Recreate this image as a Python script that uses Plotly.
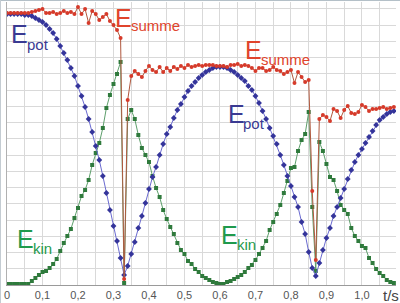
import plotly.graph_objects as go

# time axis (s), sampled every 10 ms
t = [0.00, 0.01, 0.02, 0.03, 0.04, 0.05, 0.06, 0.07, 0.08, 0.09,
     0.10, 0.11, 0.12, 0.13, 0.14, 0.15, 0.16, 0.17, 0.18, 0.19,
     0.20, 0.21, 0.22, 0.23, 0.24, 0.25, 0.26, 0.27, 0.28, 0.29,
     0.30, 0.31, 0.32, 0.33, 0.34, 0.35, 0.36, 0.37, 0.38, 0.39,
     0.40, 0.41, 0.42, 0.43, 0.44, 0.45, 0.46, 0.47, 0.48, 0.49,
     0.50, 0.51, 0.52, 0.53, 0.54, 0.55, 0.56, 0.57, 0.58, 0.59,
     0.60, 0.61, 0.62, 0.63, 0.64, 0.65, 0.66, 0.67, 0.68, 0.69,
     0.70, 0.71, 0.72, 0.73, 0.74, 0.75, 0.76, 0.77, 0.78, 0.79,
     0.80, 0.81, 0.82, 0.83, 0.84, 0.85, 0.86, 0.87, 0.88, 0.89,
     0.90, 0.91, 0.92, 0.93, 0.94, 0.95, 0.96, 0.97, 0.98, 0.99,
     1.00, 1.01, 1.02, 1.03, 1.04, 1.05, 1.06, 1.07, 1.08, 1.09]

# energies in arbitrary units
e_pot = [271, 271, 271, 271, 271, 270, 270, 269, 267, 265,
         263, 260, 256, 252, 246, 239, 232, 225, 217, 209,
         199, 189, 178, 166, 153, 139, 125, 109, 92, 75,
         59, 44, 27, 10, 19, 31, 43, 57, 69, 82,
         96, 108, 118, 130, 141, 151, 158, 167, 175, 181,
         188, 194, 199, 203, 207, 210, 213, 215, 217, 218,
         218, 218, 217, 215, 213, 210, 207, 204, 199, 195,
         189, 182, 174, 166, 157, 149, 141, 130, 120, 109,
         99, 88, 78, 63, 51, 33, 17, 9, 22, 35,
         47, 57, 69, 78, 87, 96, 106, 115, 123, 130,
         136, 142, 148, 154, 160, 165, 168, 171, 173, 174]

e_kin = [1, 1, 1, 1, 1, 1, 1, 4, 7, 10,
         13, 14, 17, 21, 26, 34, 42, 49, 56, 67,
         77, 89, 95, 105, 120, 132, 142, 157, 177, 190,
         201, 211, 223, 2, 166, 175, 166, 150, 137, 130,
         123, 109, 97, 88, 75, 66, 58, 51, 42, 35,
         31, 24, 21, 16, 13, 9, 7, 5, 3, 2,
         1, 1, 3, 4, 6, 8, 10, 13, 17, 20,
         25, 31, 37, 44, 55, 63, 71, 80, 92, 104,
         117, 118, 134, 145, 151, 173, 78, 14, 143, 134,
         121, 108, 105, 94, 80, 75, 71, 57, 49, 44,
         39, 37, 27, 22, 16, 12, 9, 5, 3, 2]

e_summe = [272, 272, 272, 272, 272, 272, 272, 273, 274, 275,
           276, 272, 272, 273, 271, 272, 274, 272, 273, 271,
           278, 271, 276, 262, 274, 271, 265, 268, 271, 264,
           260, 255, 247, 6, 185, 209, 214, 211, 208, 214,
           219, 215, 213, 218, 213, 217, 214, 218, 216, 219,
           217, 220, 218, 219, 220, 219, 220, 220, 220, 219,
           219, 219, 218, 220, 220, 221, 219, 220, 219, 217,
           214, 217, 217, 214, 215, 218, 215, 214, 211, 213,
           215, 202, 213, 208, 203, 205, 94, 25, 166, 170,
           168, 164, 176, 174, 167, 175, 179, 172, 171, 173,
           180, 178, 174, 176, 176, 177, 178, 176, 177, 178]

tick_vals = [0, 0.05, 0.1, 0.15, 0.2, 0.25, 0.3, 0.35, 0.4, 0.45, 0.5,
             0.55, 0.6, 0.65, 0.7, 0.75, 0.8, 0.85, 0.9, 0.95, 1.0, 1.05]
tick_text = ["0", "", "0,1", "", "0,2", "", "0,3", "", "0,4", "", "0,5",
             "", "0,6", "", "0,7", "", "0,8", "", "0,9", "", "1,0", ""]

W, H = 400, 303
ML, MR, MT, MB = 7, 4, 2, 18
PW, PH = W - ML - MR, H - MT - MB

def px(xp, yp):
    """pixel position -> paper coords"""
    return (xp - ML) / PW, (H - MB - yp) / PH

fig = go.Figure()

fig.add_trace(go.Scatter(
    x=t, y=e_kin, mode="lines+markers", name="Ekin",
    line=dict(color="#5e9f6c", width=1),
    marker=dict(symbol="square", size=4, color="#2f7a3c")))
fig.add_trace(go.Scatter(
    x=t, y=e_pot, mode="lines+markers", name="Epot",
    line=dict(color="#6a6ad0", width=1),
    marker=dict(symbol="diamond", size=4.5, color="#34349a")))
fig.add_trace(go.Scatter(
    x=t, y=e_summe, mode="lines+markers", name="Esumme",
    line=dict(color="#b0583e", width=1),
    marker=dict(symbol="circle", size=4, color="#d63a2a")))

annots = []
def label(main, sub, color, ex, ey, sx, sy):
    x, y = px(ex, ey)
    annots.append(dict(x=x, y=y, xref="paper", yref="paper", text=main,
                       showarrow=False, xanchor="center", yanchor="middle",
                       font=dict(family="Liberation Sans", size=25, color=color)))
    x, y = px(sx, sy)
    annots.append(dict(x=x, y=y, xref="paper", yref="paper", text=sub,
                       showarrow=False, xanchor="left", yanchor="middle",
                       font=dict(family="Liberation Sans", size=15, color=color)))

label("E", "pot", "#3a3a92", 19, 34, 25, 44)
label("E", "summe", "#e0442c", 123, 18, 129, 25)
label("E", "summe", "#e0442c", 254, 50, 259, 59)
label("E", "pot", "#3a3a92", 236, 114, 241, 124)
label("E", "kin", "#1f9a4c", 25, 239, 31, 248)
label("E", "kin", "#1f9a4c", 229, 235, 235, 244)

x, y = px(391, 295)
annots.append(dict(x=x, y=y, xref="paper", yref="paper", text="t/s",
                   showarrow=False, xanchor="center", yanchor="middle",
                   font=dict(family="Liberation Sans", size=15, color="#444")))

fig.update_layout(
    width=W, height=H,
    margin=dict(l=ML, r=MR, t=MT, b=MB, pad=0),
    paper_bgcolor="white", plot_bgcolor="white",
    showlegend=False,
    annotations=annots,
    font=dict(family="Liberation Sans", size=11, color="#555"),
    xaxis=dict(range=[0, 1.096], tickmode="array", tickvals=tick_vals,
               ticktext=tick_text, showgrid=True, gridcolor="#d9d9d9",
               gridwidth=1, zeroline=False, showline=True, linecolor="#9a9a9a",
               linewidth=1, ticks="", tickfont=dict(size=11, color="#555")),
    yaxis=dict(range=[0, 283], tick0=0, dtick=16.25, showgrid=True,
               gridcolor="#d9d9d9", gridwidth=1, zeroline=False,
               showline=True, linecolor="#b0b0b0", linewidth=1,
               showticklabels=False, ticks=""),
    shapes=[
        dict(type="line", xref="paper", yref="paper",
             x0=px(0, 0.5)[0], x1=px(400, 0.5)[0], y0=px(0, 0.5)[1], y1=px(0, 0.5)[1],
             line=dict(color="#b4c0c8", width=1)),
        dict(type="line", xref="paper", yref="paper",
             x0=px(0.5, 0)[0], x1=px(0.5, 0)[0], y0=px(0, 0)[1], y1=px(0, 303)[1],
             line=dict(color="#c4ccd2", width=1)),
    ],
)

fig.write_html("out.html")
